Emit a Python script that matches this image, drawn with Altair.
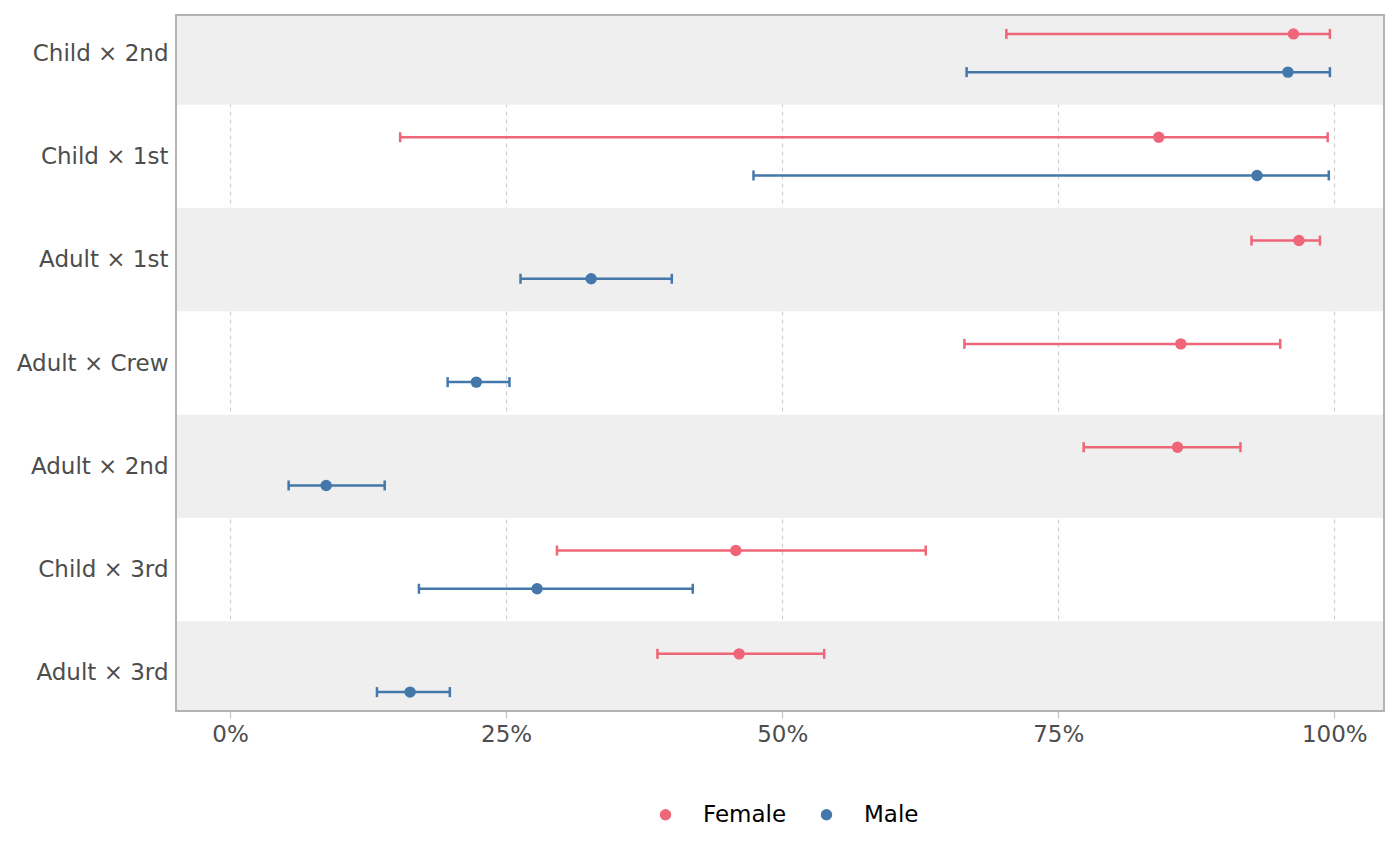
import altair as alt
import pandas as pd

# Categories, bottom (1) to top (7)
categories = ["Adult × 3rd", "Child × 3rd", "Adult × 2nd", "Adult × Crew",
              "Adult × 1st", "Child × 1st", "Child × 2nd"]

female_est = [0.461, 0.458, 0.858, 0.861, 0.968, 0.841, 0.963]
female_lo  = [0.387, 0.296, 0.773, 0.665, 0.925, 0.154, 0.703]
female_hi  = [0.538, 0.630, 0.915, 0.951, 0.987, 0.994, 0.996]

male_est = [0.163, 0.278, 0.087, 0.223, 0.327, 0.930, 0.958]
male_lo  = [0.133, 0.171, 0.053, 0.197, 0.263, 0.474, 0.667]
male_hi  = [0.199, 0.419, 0.140, 0.253, 0.400, 0.995, 0.996]

sexes = ["Female", "Male"]
colors = ["#EE6677", "#4477AA"]

rows = []
for i, c in enumerate(categories):
    rows.append({"cat": c, "pos": i + 1, "sex": "Female",
                 "est": female_est[i], "lo": female_lo[i], "hi": female_hi[i]})
    rows.append({"cat": c, "pos": i + 1, "sex": "Male",
                 "est": male_est[i], "lo": male_lo[i], "hi": male_hi[i]})
df = pd.DataFrame(rows)

stripes = pd.DataFrame({"pos": [i + 1 for i in range(len(categories)) if i % 2 == 0]})

W, H = 1208, 696
ydom = [0.632, 7.368]
xdom = [-0.049, 1.045]
FS = 23

label_expr = "[" + ",".join(f"'{c}'" for c in categories) + "][datum.value - 1]"

xscale = alt.Scale(domain=xdom, nice=False, zero=False)
yscale = alt.Scale(domain=ydom, nice=False, zero=False)

xaxis = alt.Axis(values=[0, 0.25, 0.5, 0.75, 1.0], format=".0%", title=None,
                 grid=True, gridDash=[4, 4], gridColor="#CFCFCF", gridWidth=1.2,
                 ticks=True, tickSize=7, tickColor="#C4C4C4", tickWidth=1.2, domain=False,
                 labelFontSize=FS, labelColor="#4D4D4D", labelPadding=5)
yaxis = alt.Axis(values=list(range(1, 8)), labelExpr=label_expr, title=None,
                 grid=False, ticks=False, domain=False,
                 labelFontSize=FS, labelColor="#4D4D4D", labelPadding=8)

base = alt.Chart(df).transform_calculate(
    ypos="datum.pos + (datum.sex == 'Female' ? 0.185 : -0.185)"
)

stripe_layer = alt.Chart(stripes).transform_calculate(
    y1="datum.pos - 0.5", y2="datum.pos + 0.5"
).mark_rect(color="#EFEFEF", clip=True).encode(
    y=alt.Y("y1:Q", scale=yscale, axis=yaxis),
    y2="y2:Q",
    x=alt.value(0),
    x2=alt.value(W),
)

grid_layer = alt.Chart(df).mark_point(opacity=0).encode(
    x=alt.X("est:Q", scale=xscale, axis=xaxis),
)

color_nolegend = alt.Color("sex:N", scale=alt.Scale(domain=sexes, range=colors), legend=None)

rule_layer = base.mark_rule(strokeWidth=2.5).encode(
    x=alt.X("lo:Q", scale=xscale),
    x2="hi:Q",
    y=alt.Y("ypos:Q", scale=yscale),
    color=color_nolegend,
)

lo_tick = base.mark_tick(orient="vertical", size=10, thickness=2.5, opacity=1).encode(
    x=alt.X("lo:Q", scale=xscale),
    y=alt.Y("ypos:Q", scale=yscale),
    color=color_nolegend,
)
hi_tick = base.mark_tick(orient="vertical", size=10, thickness=2.5, opacity=1).encode(
    x=alt.X("hi:Q", scale=xscale),
    y=alt.Y("ypos:Q", scale=yscale),
    color=color_nolegend,
)

point_layer = base.mark_circle(size=130, opacity=1).encode(
    x=alt.X("est:Q", scale=xscale),
    y=alt.Y("ypos:Q", scale=yscale),
    color=alt.Color("sex:N", scale=alt.Scale(domain=sexes, range=colors),
                    legend=alt.Legend(title=None, orient="none", direction="horizontal",
                                      legendX=478, legendY=788,
                                      symbolType="circle", symbolSize=130,
                                      labelFontSize=FS, labelColor="#000000",
                                      labelOffset=26, columnPadding=28,
                                      symbolStrokeWidth=0)),
)

frame_layer = alt.Chart(stripes).mark_rect(
    fill=None, stroke="#B3B3B3", strokeWidth=1.3
).encode(
    x=alt.value(0), x2=alt.value(W), y=alt.value(0), y2=alt.value(H),
)

chart = alt.layer(
    stripe_layer, grid_layer, rule_layer, lo_tick, hi_tick, point_layer, frame_layer
).resolve_scale(color="independent").properties(
    width=W, height=H,
    autosize=alt.AutoSizeParams(type="none"),
    padding={"left": 168, "top": 7, "right": 8, "bottom": 140},
).configure(
    font="DejaVu Sans",
).configure_view(
    stroke=None,
)

chart.save("out.html", embed_options={"renderer": "svg", "actions": False})
